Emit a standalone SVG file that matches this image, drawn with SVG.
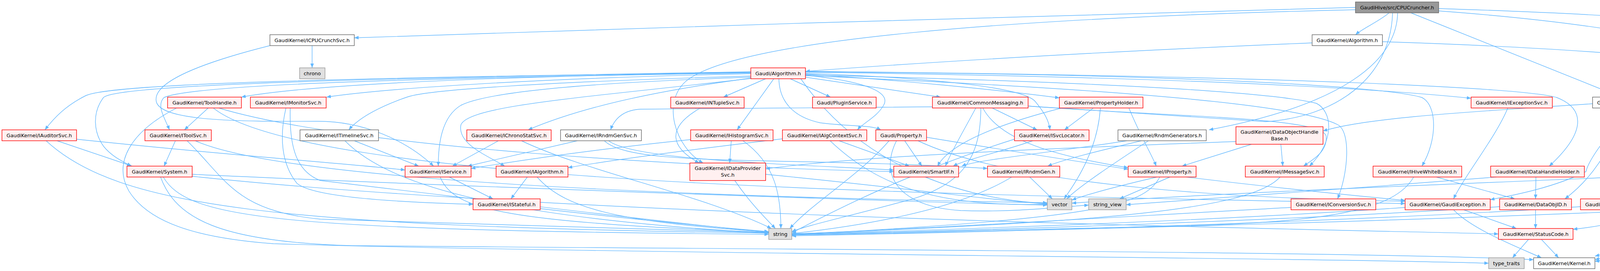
<svg xmlns="http://www.w3.org/2000/svg" width="4886" height="695" viewBox="0 0 4886 695">
<style>
.e{fill:none;stroke:#63b8ff;stroke-width:1.4;marker-end:url(#a)}
.n rect{stroke-width:1.4}
.r rect{fill:#fff0f0;stroke:#ff0000}
.w rect{fill:#ffffff;stroke:#666666}
.g rect{fill:#e0e0e0;stroke:#999999}
.k rect{fill:#999999;stroke:#666666}
text{font-family:"DejaVu Sans","Liberation Sans",sans-serif;font-size:12.8px;fill:#000;text-anchor:middle}
</style>
<defs>
<marker id="a" markerUnits="userSpaceOnUse" markerWidth="11" markerHeight="9" refX="11" refY="4.5" orient="auto">
<path d="M0,0 L11,4.5 L0,9 z" fill="#63b8ff"/>
</marker>
</defs>
<rect x="0" y="0" width="4886" height="695" fill="#ffffff"/>
<g id="edges">
<path class="e" d="M3470,19 C3000,30 1600,72 907,97"/>
<path class="e" d="M3556,33 C3530,55 3490,72 3470,89"/>
<path class="e" d="M3470,25 C2600,45 1900,100 1760,205 C1690,260 1730,380 1800,418"/>
<path class="e" d="M3578,33 C3575,160 3430,270 3095,333"/>
<path class="e" d="M3565,33 C3560,200 3420,300 3240,312 L2632,272 L1640,280 C1600,282 1575,300 1563,333"/>
<path class="e" d="M3612,33 L4150,249"/>
<path class="e" d="M3683,22 C4100,35 4400,55 4585,84"/>
<path class="e" d="M3683,28 C4250,70 4530,150 4545,230 L4545,330 C4545,380 4480,410 4430,426"/>
<path class="e" d="M3359,110 C3000,125 2500,150 2062,183"/>
<path class="e" d="M3539,107 C3950,120 4450,150 4620,205 C4690,235 4703,270 4703,320 L4703,450 C4705,510 4735,555 4746,586"/>
<path class="e" d="M799,117 L799,174"/>
<path class="e" d="M691,117 C520,160 390,210 400,260 C410,310 600,312 810,311 C930,310 1040,360 1110,426"/>
<path class="e" d="M1922,186 C1300,195 800,215 618,249"/>
<path class="e" d="M1922,189 C1400,200 1000,225 836,249"/>
<path class="e" d="M1922,184 C1000,200 300,210 220,245 C170,270 140,300 115,333"/>
<path class="e" d="M1922,187 C1100,200 500,215 420,250 C400,270 420,300 434,333"/>
<path class="e" d="M1922,185 C1000,200 300,215 265,250 C235,290 240,340 265,375 C285,400 310,412 336,426"/>
<path class="e" d="M1922,195 C1400,210 1100,230 1045,248 C980,270 920,300 893,333"/>
<path class="e" d="M1925,200 C1700,230 1500,270 1352,333"/>
<path class="e" d="M1922,198 C1500,212 1250,235 1180,270 C1130,300 1122,370 1122,426"/>
<path class="e" d="M1924,201 C1500,250 1200,270 1180,320 C1170,370 1250,400 1292,426"/>
<path class="e" d="M732,277 C715,350 720,420 760,470 C800,505 1000,518 1211,524"/>
<path class="e" d="M1960,202 L1852,249"/>
<path class="e" d="M1981,202 L1887,333"/>
<path class="e" d="M2023,202 L2126,249"/>
<path class="e" d="M2062,198 L2408,249"/>
<path class="e" d="M2062,193 C2230,210 2280,240 2262,270 C2245,300 2210,315 2195,333"/>
<path class="e" d="M1994,202 C1995,260 2030,300 2100,315 C2180,325 2230,320 2255,333"/>
<path class="e" d="M2062,190 C2300,205 2550,230 2712,251"/>
<path class="e" d="M2062,188 C2400,200 2620,225 2650,260 C2675,290 2685,310 2688,333"/>
<path class="e" d="M2062,185 C2800,195 3400,215 3766,252"/>
<path class="e" d="M2062,184 C3000,190 3540,220 3640,250 C3680,270 3680,360 3640,426"/>
<path class="e" d="M2062,183 C3300,195 3900,225 3985,250 C4050,275 4070,330 3966,426"/>
<path class="e" d="M2062,192 C2800,210 3250,235 3370,265 C3410,285 3420,360 3352,426"/>
<path class="e" d="M2632,272 C3000,300 3390,300 3395,350 C3398,390 3360,410 3337,426"/>
<path class="e" d="M2062,194 C2900,230 3330,270 3425,320 C3460,340 3450,450 3424,510"/>
<path class="e" d="M2050,202 C2200,420 2450,510 2681,522"/>
<path class="e" d="M533,277 L472,333"/>
<path class="e" d="M452,277 C330,340 290,420 330,490 C380,570 500,610 700,625 C1500,650 3300,660 3811,675"/>
<path class="e" d="M560,277 C900,380 1800,430 2288,440"/>
<path class="e" d="M546,277 C800,480 2500,500 3597,522"/>
<path class="e" d="M146,361 L338,426"/>
<path class="e" d="M196,357 C600,400 900,420 1037,436"/>
<path class="e" d="M118,361 C300,530 700,580 1968,598"/>
<path class="e" d="M449,361 L420,426"/>
<path class="e" d="M479,361 C580,460 600,540 820,562 C1300,580 1700,590 1968,597"/>
<path class="e" d="M500,361 C700,450 1500,500 2681,520"/>
<path class="e" d="M418,454 C480,560 700,590 1968,601"/>
<path class="e" d="M492,447 C1200,480 2400,520 2681,526"/>
<path class="e" d="M411,454 C450,560 560,620 900,630 C2000,640 3500,645 3926,666"/>
<path class="e" d="M492,452 C1500,560 3500,590 3836,600"/>
<path class="e" d="M1150,454 L1262,510"/>
<path class="e" d="M1127,454 C1160,540 1300,570 1968,596"/>
<path class="e" d="M1350,454 L1308,510"/>
<path class="e" d="M1375,454 C1450,540 1600,570 1968,595"/>
<path class="e" d="M1383,535 C1600,560 1800,580 1968,594"/>
<path class="e" d="M1793,277 C1700,330 1720,380 1790,418"/>
<path class="e" d="M1872,361 L1868,418"/>
<path class="e" d="M1768,358 C1600,375 1400,400 1206,432"/>
<path class="e" d="M1902,361 C1985,420 1999,500 1999,586"/>
<path class="e" d="M2003,356 C1800,380 1600,405 1454,430"/>
<path class="e" d="M2148,361 L2328,426"/>
<path class="e" d="M2125,361 C2250,480 2400,530 2681,524"/>
<path class="e" d="M2276,361 C2200,450 2080,520 2022,586"/>
<path class="e" d="M2372,352 C2600,390 2800,420 2888,434"/>
<path class="e" d="M2295,361 C2250,450 2300,530 2460,540 C2600,545 2720,530 2787,526"/>
<path class="e" d="M2316,361 L2360,426"/>
<path class="e" d="M2350,361 C2600,480 3200,510 3597,516"/>
<path class="e" d="M2644,361 C2560,390 2470,410 2440,426"/>
<path class="e" d="M2600,356 C2300,450 2100,560 2027,597"/>
<path class="e" d="M2922,361 C2800,390 2720,410 2682,426"/>
<path class="e" d="M2885,361 C2700,390 2500,410 2462,426"/>
<path class="e" d="M2940,361 C2850,420 2760,480 2731,510"/>
<path class="e" d="M2636,454 L2694,510"/>
<path class="e" d="M2590,454 C2450,540 2200,580 2027,599"/>
<path class="e" d="M2799,277 L2725,333"/>
<path class="e" d="M2817,277 C2810,380 2760,460 2724,510"/>
<path class="e" d="M2718,277 C2550,320 2430,370 2400,426"/>
<path class="e" d="M2890,277 C2920,350 2950,400 2960,426"/>
<path class="e" d="M2540,277 L2655,333"/>
<path class="e" d="M2498,277 C2470,330 2440,380 2420,426"/>
<path class="e" d="M2511,277 C2510,400 2470,480 2300,520 C2150,560 2060,580 2027,594"/>
<path class="e" d="M2516,277 C2560,360 2700,400 2888,430"/>
<path class="e" d="M3860,277 C3830,350 3750,450 3721,510"/>
<path class="e" d="M4077,266 C3800,285 3500,300 3387,336"/>
<path class="e" d="M4226,277 L4352,333"/>
<path class="e" d="M4190,277 C4180,380 4170,460 4153,510"/>
<path class="e" d="M4176,277 C4130,330 4070,400 4060,440 C3980,480 3880,500 3815,512"/>
<path class="e" d="M4160,277 C4120,400 4060,470 4006,510"/>
<path class="e" d="M4201,277 C4230,330 4260,380 4330,388 C4420,390 4460,430 4466,510"/>
<path class="e" d="M4312,267 C4500,290 4595,360 4597,450 L4597,530 C4597,540 4580,540 4560,545 C4300,610 4150,650 4083,666"/>
<path class="e" d="M3279,370 L3284,426"/>
<path class="e" d="M3204,370 L3026,426"/>
<path class="e" d="M3164,363 C2700,380 2200,400 1960,433"/>
<path class="e" d="M3277,454 C3200,540 2800,570 2027,600"/>
<path class="e" d="M3677,454 L3878,510"/>
<path class="e" d="M3619,454 C3570,540 3400,570 3000,580 C2500,590 2200,598 2027,602"/>
<path class="e" d="M3932,454 L3931,510"/>
<path class="e" d="M3831,454 C3500,480 3100,510 2883,525"/>
<path class="e" d="M4350,454 L4440,510"/>
<path class="e" d="M4333,454 C4275,573 4150,640 4083,657"/>
<path class="e" d="M4327,454 C4290,540 4150,575 4027,588"/>
<path class="e" d="M4232,450 C3800,470 3200,490 2744,521"/>
<path class="e" d="M4455,538 C4380,620 4200,660 4083,670"/>
<path class="e" d="M4377,532 C3800,560 2800,590 2027,603"/>
<path class="e" d="M4046,530 C3600,560 2800,590 2027,605"/>
<path class="e" d="M3931,538 L3931,586"/>
<path class="e" d="M3839,530 C3400,560 2600,590 2027,601"/>
<path class="e" d="M3747,538 L3882,586"/>
<path class="e" d="M3721,538 C3770,590 3900,640 3946,661"/>
<path class="e" d="M3597,532 C3200,560 2600,585 2027,600"/>
<path class="e" d="M3305,532 C2800,560 2300,590 2027,600"/>
<path class="e" d="M3913,614 L3872,661"/>
<path class="e" d="M3946,614 L3990,661"/>
<path class="e" d="M2962,454 C2850,480 2780,500 2744,513"/>
<path class="e" d="M2995,454 L2866,510"/>
<path class="e" d="M2969,454 C2930,530 2800,560 2027,602"/>
<path class="e" d="M3037,454 C3250,480 3450,500 3597,514"/>
<path class="e" d="M4635,609 C4400,640 4200,660 4083,670"/>
<path class="e" d="M1276,361 L1158,426"/>
<path class="e" d="M1335,361 C1500,440 1800,500 1975,586"/>
<path class="e" d="M907,361 L1072,426"/>
<path class="e" d="M883,361 C1000,480 1300,560 1968,598"/>
<path class="e" d="M1478,361 L1197,426"/>
<path class="e" d="M1547,361 C1620,430 2000,400 2528,432"/>
<path class="e" d="M1558,361 C1620,410 2000,420 2288,436"/>
<path class="e" d="M1881,463 C1920,520 1960,560 1985,586"/>
<path class="e" d="M1960,447 C2300,480 2550,515 2681,523"/>
<path class="e" d="M743,277 C740,380 760,440 820,463 C1300,520 1700,570 1968,596"/>
</g>
<g id="n1" class="n k"><rect x="3470" y="5" width="213" height="28"/><text x="3576.5" y="23.5">GaudiHive/src/CPUCruncher.h</text></g>
<g id="n2" class="n w"><rect x="691" y="89" width="216" height="28"/><text x="799" y="107.5">GaudiKernel/ICPUCrunchSvc.h</text></g>
<g id="n3" class="n w"><rect x="3359" y="89" width="180" height="28"/><text x="3449" y="107.5">GaudiKernel/Algorithm.h</text></g>
<g id="n4" class="n g"><rect x="4585" y="81" width="154" height="45"/><text x="4662" y="99.5">tbb/concurrent_hash</text><text x="4662" y="116">_map.h</text></g>
<g id="n5" class="n g"><rect x="767" y="174" width="65" height="28"/><text x="799.5" y="192.5">chrono</text></g>
<g id="n6" class="n r"><rect x="1922" y="174" width="140" height="28"/><text x="1992" y="192.5">Gaudi/Algorithm.h</text></g>
<g id="n7" class="n r"><rect x="429" y="249" width="189" height="28"/><text x="523.5" y="267.5">GaudiKernel/ToolHandle.h</text></g>
<g id="n8" class="n r"><rect x="641" y="249" width="194" height="28"/><text x="738" y="267.5">GaudiKernel/IMonitorSvc.h</text></g>
<g id="n9" class="n r"><rect x="1717" y="249" width="188" height="28"/><text x="1811" y="267.5">GaudiKernel/INTupleSvc.h</text></g>
<g id="n10" class="n r"><rect x="2080" y="249" width="163" height="28"/><text x="2161.5" y="267.5">Gaudi/PluginService.h</text></g>
<g id="n11" class="n r"><rect x="2387" y="249" width="245" height="28"/><text x="2509.5" y="267.5">GaudiKernel/CommonMessaging.h</text></g>
<g id="n12" class="n r"><rect x="2712" y="249" width="214" height="28"/><text x="2819" y="267.5">GaudiKernel/PropertyHolder.h</text></g>
<g id="n13" class="n r"><rect x="3766" y="249" width="208" height="28"/><text x="3870" y="267.5">GaudiKernel/IExceptionSvc.h</text></g>
<g id="n14" class="n w"><rect x="4077" y="249" width="235" height="28"/><text x="4194.5" y="267.5">GaudiKernel/DataObjectHandle.h</text></g>
<g id="n15" class="n r"><rect x="5" y="333" width="191" height="28"/><text x="100.5" y="351.5">GaudiKernel/IAuditorSvc.h</text></g>
<g id="n16" class="n r"><rect x="371" y="333" width="170" height="28"/><text x="456" y="351.5">GaudiKernel/IToolSvc.h</text></g>
<g id="n17" class="n w"><rect x="768" y="333" width="201" height="28"/><text x="868.5" y="351.5">GaudiKernel/ITimelineSvc.h</text></g>
<g id="n18" class="n r"><rect x="1195" y="333" width="216" height="28"/><text x="1303" y="351.5">GaudiKernel/IChronoStatSvc.h</text></g>
<g id="n19" class="n w"><rect x="1435" y="333" width="207" height="28"/><text x="1538.5" y="351.5">GaudiKernel/IRndmGenSvc.h</text></g>
<g id="n20" class="n r"><rect x="1768" y="333" width="211" height="28"/><text x="1873.5" y="351.5">GaudiKernel/IHistogramSvc.h</text></g>
<g id="n21" class="n r"><rect x="2003" y="333" width="216" height="28"/><text x="2111" y="351.5">GaudiKernel/IAlgContextSvc.h</text></g>
<g id="n22" class="n r"><rect x="2242" y="333" width="130" height="28"/><text x="2307" y="351.5">Gaudi/Property.h</text></g>
<g id="n23" class="n r"><rect x="2597" y="333" width="191" height="28"/><text x="2692.5" y="351.5">GaudiKernel/ISvcLocator.h</text></g>
<g id="n24" class="n w"><rect x="2862" y="333" width="226" height="28"/><text x="2975" y="351.5">GaudiKernel/RndmGenerators.h</text></g>
<g id="n25" class="n r"><rect x="3164" y="325" width="223" height="45"/><text x="3275.5" y="343">GaudiKernel/DataObjectHandle</text><text x="3275.5" y="359.5">Base.h</text></g>
<g id="n26" class="n r"><rect x="4283" y="333" width="227" height="28"/><text x="4396.5" y="351.5">GaudiKernel/AnyDataWrapper.h</text></g>
<g id="n27" class="n r"><rect x="325" y="426" width="167" height="28"/><text x="408.5" y="444.5">GaudiKernel/System.h</text></g>
<g id="n28" class="n r"><rect x="1037" y="426" width="169" height="28"/><text x="1121.5" y="444.5">GaudiKernel/IService.h</text></g>
<g id="n29" class="n r"><rect x="1270" y="426" width="184" height="28"/><text x="1362" y="444.5">GaudiKernel/IAlgorithm.h</text></g>
<g id="n30" class="n r"><rect x="1766" y="418" width="194" height="45"/><text x="1863" y="436">GaudiKernel/IDataProvider</text><text x="1863" y="452.5">Svc.h</text></g>
<g id="n31" class="n r"><rect x="2288" y="426" width="166" height="28"/><text x="2371" y="444.5">GaudiKernel/SmartIF.h</text></g>
<g id="n32" class="n r"><rect x="2528" y="426" width="185" height="28"/><text x="2620.5" y="444.5">GaudiKernel/IRndmGen.h</text></g>
<g id="n33" class="n r"><rect x="2888" y="426" width="174" height="28"/><text x="2975" y="444.5">GaudiKernel/IProperty.h</text></g>
<g id="n34" class="n r"><rect x="3188" y="426" width="202" height="28"/><text x="3289" y="444.5">GaudiKernel/IMessageSvc.h</text></g>
<g id="n35" class="n r"><rect x="3515" y="426" width="227" height="28"/><text x="3628.5" y="444.5">GaudiKernel/IHiveWhiteBoard.h</text></g>
<g id="n36" class="n r"><rect x="3816" y="426" width="240" height="28"/><text x="3936" y="444.5">GaudiKernel/IDataHandleHolder.h</text></g>
<g id="n37" class="n w"><rect x="4232" y="426" width="203" height="28"/><text x="4333.5" y="444.5">GaudiKernel/RegistryEntry.h</text></g>
<g id="n38" class="n r"><rect x="1211" y="510" width="172" height="28"/><text x="1297" y="528.5">GaudiKernel/IStateful.h</text></g>
<g id="n39" class="n g"><rect x="2681" y="510" width="63" height="28"/><text x="2712.5" y="528.5">vector</text></g>
<g id="n40" class="n g"><rect x="2787" y="510" width="96" height="28"/><text x="2835" y="528.5">string_view</text></g>
<g id="n41" class="n r"><rect x="3305" y="510" width="217" height="28"/><text x="3413.5" y="528.5">GaudiKernel/IConversionSvc.h</text></g>
<g id="n42" class="n r"><rect x="3597" y="510" width="218" height="28"/><text x="3706" y="528.5">GaudiKernel/GaudiException.h</text></g>
<g id="n43" class="n r"><rect x="3839" y="510" width="184" height="28"/><text x="3931" y="528.5">GaudiKernel/DataObjID.h</text></g>
<g id="n44" class="n r"><rect x="4046" y="510" width="205" height="28"/><text x="4148.5" y="528.5">GaudiKernel/NamedRange.h</text></g>
<g id="n45" class="n w"><rect x="4377" y="510" width="172" height="28"/><text x="4463" y="528.5">GaudiKernel/IRegistry.h</text></g>
<g id="n46" class="n g"><rect x="1968" y="586" width="59" height="28"/><text x="1997.5" y="604.5">string</text></g>
<g id="n47" class="n r"><rect x="3836" y="586" width="191" height="28"/><text x="3931.5" y="604.5">GaudiKernel/StatusCode.h</text></g>
<g id="n48" class="n r"><rect x="4635" y="586" width="246" height="28"/><text x="4758" y="604.5">GaudiKernel/ThreadLocalContext.h</text></g>
<g id="n49" class="n g"><rect x="3811" y="661" width="91" height="28"/><text x="3856.5" y="679.5">type_traits</text></g>
<g id="n50" class="n w"><rect x="3926" y="661" width="157" height="28"/><text x="4004.5" y="679.5">GaudiKernel/Kernel.h</text></g>
</svg>
